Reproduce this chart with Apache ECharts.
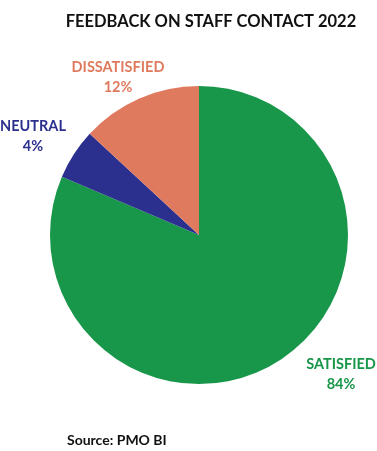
<!DOCTYPE html>
<html><head><meta charset="utf-8">
<script src="https://cdn.jsdelivr.net/npm/echarts@6/dist/echarts.min.js"></script>
<style>html,body{margin:0;padding:0;background:#fff}#c{width:377px;height:451px}</style>
</head><body><div id="c"></div>
<script>
var categories = ['SATISFIED', 'NEUTRAL', 'DISSATISFIED'];
var percentLabels = ['84%', '4%', '12%'];
var values = [81.4, 5.5, 13.1];
var colors = ['#18964a', '#2b2f8e', '#e07a5f'];
var labelPos = {SATISFIED: [341, 374], NEUTRAL: [33, 136], DISSATISFIED: [118, 77]};
var font = 'Lato, "Open Sans", sans-serif';
var chart = echarts.init(document.getElementById('c'));
chart.setOption({
  animation: false,
  title: [{
    text: 'FEEDBACK ON STAFF CONTACT 2022', left: 206, top: 8, textAlign: 'center',
    textStyle: {fontFamily: font, fontWeight: 'bold', fontSize: 16.5, color: '#111'}
  }, {
    text: 'Source: PMO BI', left: 62, top: 428,
    textStyle: {fontFamily: font, fontWeight: 'bold', fontSize: 14, color: '#111'}
  }],
  series: [{
    type: 'pie', center: [199, 235], radius: 149, startAngle: 90, clockwise: true,
    data: categories.map(function (c, i) {
      return {name: c, value: values[i], itemStyle: {color: colors[i]},
        label: {color: colors[i]}};
    }),
    label: {show: true, position: 'outside', align: 'center', overflow: 'none',
      formatter: function (p) { return p.name + '\n' + percentLabels[p.dataIndex]; },
      fontFamily: font, fontWeight: 'bold', fontSize: 14.5, lineHeight: 20},
    labelLine: {show: false},
    labelLayout: function (p) {
      var pos = labelPos[categories[p.dataIndex]];
      return {x: pos[0], y: pos[1], align: 'center', verticalAlign: 'middle'};
    }
  }]
});
</script></body></html>
